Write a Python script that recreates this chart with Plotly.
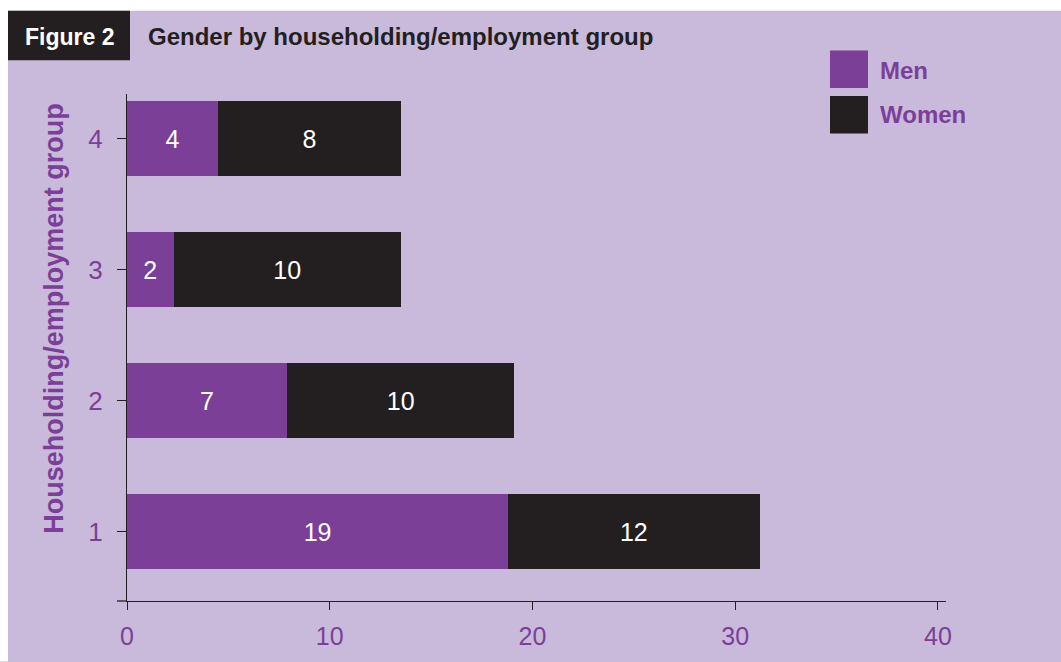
import plotly.graph_objects as go

# ---- data ----
groups = ["1", "2", "3", "4"]
men_values = [18.8, 7.9, 2.3, 4.5]      # bar lengths as drawn
women_values = [12.4, 11.2, 11.2, 9.0]
men_labels = ["19", "7", "2", "4"]       # printed labels
women_labels = ["12", "10", "10", "8"]
x_ticks = [0, 10, 20, 30, 40]

# ---- style ----
PURPLE = "#7B3F98"
BLACK = "#231F20"
LAV = "#C9B9DB"
FONT = "Liberation Sans, Arial, sans-serif"
W, H = 1061, 662
ML, MR, MT, MB = 127, 115, 94, 56
PW, PH = W - ML - MR, H - MT - MB


def px(x):
    return (x - ML) / PW


def py(y):
    return (H - MB - y) / PH


fig = go.Figure()
fig.add_trace(go.Bar(
    y=groups, x=men_values, orientation="h", name="Men",
    marker=dict(color=PURPLE, line=dict(width=0)),
    text=men_labels, textposition="inside", insidetextanchor="middle",
    textfont=dict(color="white", size=25, family=FONT),
    hoverinfo="skip",
))
fig.add_trace(go.Bar(
    y=groups, x=women_values, orientation="h", name="Women",
    marker=dict(color=BLACK, line=dict(width=0)),
    text=women_labels, textposition="inside", insidetextanchor="middle",
    textfont=dict(color="white", size=25, family=FONT),
    hoverinfo="skip",
))

shapes = [
    # white strips around the lavender panel
    dict(type="rect", xref="paper", yref="paper", x0=px(-5), x1=px(8), y0=py(-5), y1=py(H + 5),
         fillcolor="white", line=dict(width=0), layer="below"),
    dict(type="rect", xref="paper", yref="paper", x0=px(-5), x1=px(W + 5), y0=py(-5), y1=py(10),
         fillcolor="white", line=dict(width=0), layer="below"),
    # Figure 2 box
    dict(type="rect", xref="paper", yref="paper", x0=px(8), x1=px(130), y0=py(10), y1=py(60),
         fillcolor=BLACK, line=dict(width=0)),
    # legend swatches
    dict(type="rect", xref="paper", yref="paper", x0=px(830), x1=px(868), y0=py(50), y1=py(88),
         fillcolor=PURPLE, line=dict(width=0)),
    dict(type="rect", xref="paper", yref="paper", x0=px(830), x1=px(868), y0=py(96), y1=py(134),
         fillcolor=BLACK, line=dict(width=0)),
    # x-axis line extension to the left of the y axis
    dict(type="line", xref="paper", yref="paper", x0=px(117), x1=px(127), y0=0, y1=0,
         line=dict(color=BLACK, width=1.3)),
]

annotations = [
    dict(text="<b>Figure 2</b>", xref="paper", yref="paper", x=px(69), y=py(36),
         xanchor="center", yanchor="middle", showarrow=False,
         font=dict(color="white", size=23, family=FONT)),
    dict(text="<b>Gender by householding/employment group</b>", xref="paper", yref="paper",
         x=px(146), y=py(36), xanchor="left", yanchor="middle", showarrow=False,
         font=dict(color=BLACK, size=24, family=FONT)),
    dict(text="<b>Men</b>", xref="paper", yref="paper", x=px(878), y=py(70),
         xanchor="left", yanchor="middle", showarrow=False,
         font=dict(color=PURPLE, size=24, family=FONT)),
    dict(text="<b>Women</b>", xref="paper", yref="paper", x=px(878), y=py(115),
         xanchor="left", yanchor="middle", showarrow=False,
         font=dict(color=PURPLE, size=24, family=FONT)),
    dict(text="<b>Householding/employment group</b>", xref="paper", yref="paper",
         x=px(54), y=py(321), xanchor="center", yanchor="middle", showarrow=False,
         textangle=-90,
         font=dict(color=PURPLE, size=27, family=FONT)),
]

fig.update_layout(
    width=W, height=H,
    margin=dict(l=ML, r=MR, t=MT, b=MB, pad=0),
    paper_bgcolor=LAV, plot_bgcolor=LAV,
    barmode="stack", bargap=0.434,
    showlegend=False,
    shapes=shapes, annotations=annotations,
    xaxis=dict(
        range=[0, 40.4], tickvals=x_ticks, ticktext=[str(v) for v in x_ticks],
        showgrid=False, zeroline=False,
        showline=True, linecolor=BLACK, linewidth=1.3,
        ticks="outside", ticklen=8, tickcolor=BLACK, tickwidth=1.3,
        ticklabelstandoff=5,
        tickfont=dict(color=PURPLE, size=25, family=FONT),
        fixedrange=True,
    ),
    yaxis=dict(
        type="category", range=[-0.53, 3.34],
        showgrid=False, zeroline=False,
        showline=True, linecolor=BLACK, linewidth=1.3,
        ticks="outside", ticklen=9, tickcolor=BLACK, tickwidth=1.3,
        ticklabelstandoff=9,
        tickfont=dict(color=PURPLE, size=26, family=FONT),
        fixedrange=True,
    ),
)

fig.write_html(
    "out.html",
    post_script=(
        "document.body.style.margin='0';"
        "document.body.style.overflow='hidden';"
        "document.body.style.background='" + LAV + "';"
        "document.documentElement.style.background='" + LAV + "';"
    ),
)
